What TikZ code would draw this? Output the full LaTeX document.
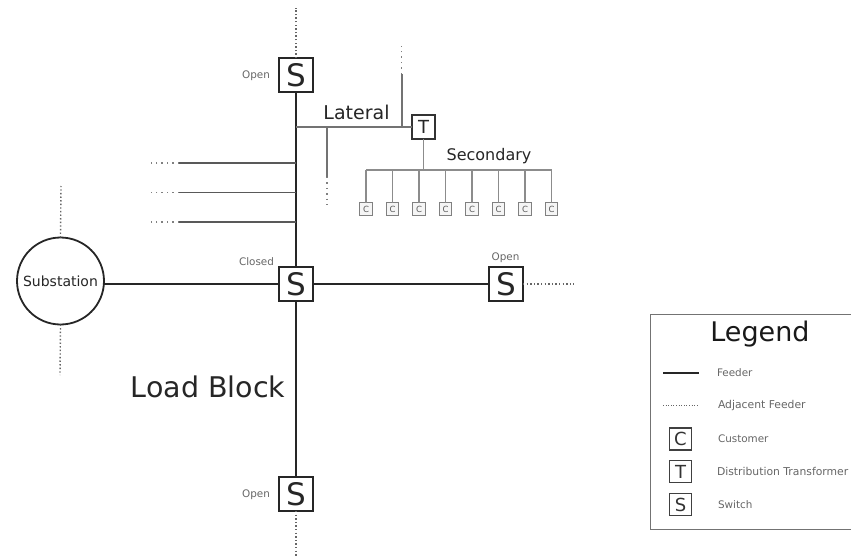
\documentclass[tikz,border=0pt]{standalone}
\usepackage{fontspec}
\setmainfont{DejaVu Sans}
\tikzset{
  every node/.style={inner sep=0pt,outer sep=0pt},
  swbox/.style={draw=black!85,line width=2pt,fill=white,minimum size=34pt,font=\fontsize{31}{31}\selectfont,text=black!85},
  trbox/.style={draw=black!80,line width=1.6pt,fill=white,minimum size=23.5pt,font=\fontsize{18}{18}\selectfont,text=black!85},
  cbox/.style={draw=black!50,line width=1pt,fill=black!4,minimum size=12.5pt,font=\fontsize{8.5}{8.5}\selectfont,text=black!65},
  legbox/.style={draw=black!75,line width=1.1pt,fill=white,minimum size=22pt,font=\fontsize{18}{18}\selectfont,text=black!80},
  feeder/.style={draw=black!85,line width=2.4pt},
  lateral/.style={draw=black!55,line width=1.6pt},
  branchline/.style={draw=black!65,line width=1.6pt},
  second/.style={draw=black!45,line width=1.1pt},
  adjacent/.style={draw=black!60,line width=1.4pt,dash pattern=on 1.4pt off 2.2pt},
  adjacentwide/.style={draw=black!50,line width=1.2pt,dash pattern=on 1.4pt off 4pt},
  smalltext/.style={font=\fontsize{10.4}{10.4}\selectfont,text=black!60},
  legtext/.style={font=\fontsize{10.4}{10.4}\selectfont,text=black!60,anchor=west},
}
\begin{document}
\begin{tikzpicture}[x=1pt,y=-1pt]
\useasboundingbox (0,0) rectangle (851,559);
% free ends and junctions
\coordinate (topEnd) at (296,8);
\coordinate (botEnd) at (296,556);
\coordinate (rightEnd) at (574,284);
\coordinate (subUp) at (61,186);
\coordinate (subDown) at (60,375);
\coordinate (latJ) at (296,127);
\coordinate (upJ) at (401.7,127);
\coordinate (upM) at (401.7,74);
\coordinate (upEnd) at (401.7,46);
\coordinate (dnJ) at (327,127);
\coordinate (dnM) at (327,177);
\coordinate (dnEnd) at (327,205);
\foreach \n/\y in {a/163,b/192.5,c/222}{
  \coordinate (j\n) at (296,\y);
  \coordinate (m\n) at (179,\y);
  \coordinate (e\n) at (147,\y);
}
\coordinate (busL) at (366,170);
\coordinate (busR) at (551.5,170);
\coordinate (busT) at (423.5,170);
% main nodes
\node[swbox] (sTop) at (296,75.5) {S};
\node[swbox] (sMid) at (296,284) {S};
\node[swbox] (sRight) at (506,284) {S};
\node[swbox] (sBot) at (296,494) {S};
\node[trbox] (tr) at (423.5,127) {T};
\node[draw=black!85,line width=1.8pt,circle,minimum size=87pt,fill=white] (subst) at (60.5,281) {};
\node[font=\fontsize{14}{14}\selectfont,text=black!85] (substT) at (60.5,281.5) {Substation};
% connectors
\draw[feeder] (sTop.south) -- (sMid.north);
\draw[feeder] (sMid.south) -- (sBot.north);
\draw[feeder] (sMid.east) -- (sRight.west);
\draw[feeder] (sMid.west) -- (sMid.west -| subst.east);
\draw[adjacent] (sTop.north) -- (topEnd);
\draw[adjacent] (sBot.south) -- (botEnd);
\draw[adjacent] (sRight.east) -- (rightEnd);
\draw[adjacent] (subst.north) -- (subUp);
\draw[adjacent] (subst.south) -- (subDown);
\draw[lateral] (latJ) -- (tr.west);
\draw[lateral] (upJ) -- (upM);
\draw[adjacentwide] (upM) -- (upEnd);
\draw[lateral] (dnJ) -- (dnM);
\draw[adjacentwide] (dnM) -- (dnEnd);
\foreach \n in {a,b,c}{
  \draw[branchline] (j\n) -- (m\n);
  \draw[adjacentwide] (m\n) -- (e\n);
}
\draw[second] (tr.south) -- (busT);
\draw[second] (busL) -- (busR);
\foreach \i/\x in {1/366,2/392.5,3/419,4/445.5,5/472,6/498.5,7/525,8/551.5}{
  \node[cbox] (c\i) at (\x,209) {C};
  \draw[second] (c\i.north) -- (c\i.north |- busL);
}
% labels
\node[smalltext] (lOpenT) at (256,75.5) {Open};
\node[smalltext] (lOpenB) at (256,495) {Open};
\node[smalltext] (lClosed) at (256.5,262) {Closed};
\node[smalltext] (lOpenR) at (505.5,258) {Open};
\node[font=\fontsize{19}{19}\selectfont,text=black!85] (lLat) at (356.5,112.5) {Lateral};
\node[font=\fontsize{16}{16}\selectfont,text=black!85] (lSec) at (489,156) {Secondary};
\node[font=\fontsize{28.5}{28.5}\selectfont,text=black!85] (lLoad) at (208,387) {Load Block};
% legend
\draw[draw=black!55,line width=1pt] (852,314) -- (650,314) -- (650,529) -- (852,529);
\node[font=\fontsize{27}{27}\selectfont,text=black!90] (lLegend) at (760,334) {Legend};
\coordinate (f1) at (663,373); \coordinate (f2) at (699,373);
\coordinate (a1) at (663,405.5); \coordinate (a2) at (699,405.5);
\draw[feeder] (f1) -- (f2);
\draw[draw=black!60,line width=1pt,dash pattern=on 1pt off 1.6pt] (a1) -- (a2);
\node[legtext] (t1) at (717,373) {Feeder};
\node[legtext,font=\fontsize{10.8}{10.8}\selectfont] (t2) at (718,405.5) {Adjacent Feeder};
\node[legbox] (kC) at (680.5,439) {C};
\node[legtext] (t3) at (718,439) {Customer};
\node[legbox] (kT) at (680.5,471.5) {T};
\node[legtext,font=\fontsize{10.8}{10.8}\selectfont] (t4) at (717,471.5) {Distribution Transformer};
\node[legbox] (kS) at (680.5,504.5) {S};
\node[legtext] (t5) at (718,504.5) {Switch};
\end{tikzpicture}
\end{document}
